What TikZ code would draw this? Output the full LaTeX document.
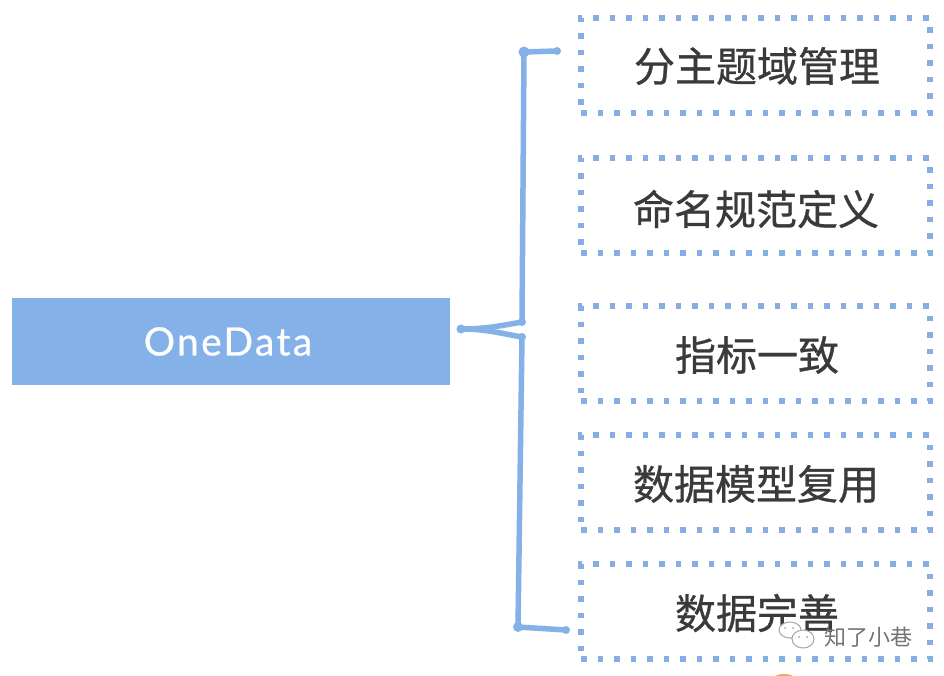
\documentclass[tikz,border=0pt]{standalone}
\usepackage{fontspec}
\setmainfont{Lato}
\newfontfamily\cjk[FakeBold=0.7]{Noto Sans CJK SC}
\newfontfamily\cjkwm{Noto Sans CJK SC}
\definecolor{bluefill}{HTML}{85B1E9}
\definecolor{dotblue}{HTML}{86AEE3}
\definecolor{inkdark}{HTML}{3A3A3A}
\tikzset{
  dotbox/.style={draw=dotblue,line width=5.5pt,dash pattern=on 5.5pt off 11pt,minimum width=349pt,minimum height=95pt,inner sep=0pt,outer sep=0pt,anchor=north west},
  boxtext/.style={font=\cjk\fontsize{41}{41}\selectfont,text=inkdark,inner sep=0pt},
  brace/.style={draw=bluefill,line width=5.5pt,line cap=round,line join=round},
  wmline/.style={draw=white!65!black,line width=1pt,fill=white},
}
\begin{document}
\begin{tikzpicture}[x=1pt,y=-1pt]
\useasboundingbox (0,0) rectangle (944,676);
\fill[white] (0,0) rectangle (944,676);
\node[fill=bluefill,minimum width=438pt,minimum height=87pt,inner sep=0pt,outer sep=0pt,anchor=north west,
      text=white,font=\fontsize{39}{39}\selectfont] (main) at (12,298) {\addfontfeature{LetterSpace=6,FakeBold=0.6}\kern-6pt OneData};

\node[dotbox] (b1) at (581,18) {};
\node[dotbox] (b2) at (581,158) {};
\node[dotbox] (b3) at (581,306) {};
\node[dotbox] (b4) at (581,435) {};
\node[dotbox] (b5) at (581,564) {};
\node[boxtext] at (757,66) {分主题域管理};
\node[boxtext] at (756,209) {命名规范定义};
\node[boxtext] at (757,355) {指标一致};
\node[boxtext] at (756,484) {数据模型复用};
\node[boxtext] at (757,613) {数据完善};

\coordinate (root) at (461,329);
\coordinate (j1) at (522,322);
\coordinate (j2) at (522,337);
\coordinate (c1) at (524,52);
\coordinate (c5) at (518,627);
\coordinate (e1) at (557,51);
\coordinate (e5) at (566,630);
\draw[brace] (root) to[out=0,in=190] (j1) -- (c1) -- (e1);
\draw[brace] (root) to[out=0,in=170] (j2) -- (c5) -- (e5);
\fill[bluefill] (c1) circle (5.5pt) (e1) circle (4pt) (root) circle (4.5pt)
  (j1) circle (4pt) (j2) circle (4pt) (c5) circle (5pt) (e5) circle (4pt);

% watermark
\draw[wmline] (790,630) ellipse (11 and 8);
\draw[wmline] (803,639) ellipse (11 and 9);
\fill[white!65!black] (785,628) circle (1pt) (793,628) circle (1pt) (799,637) circle (1pt) (807,637) circle (1pt);
\node[font=\cjkwm\fontsize{22}{22}\selectfont,text=white!45!black,inner sep=0pt] (wm) at (868,637) {知了小巷};
% orange spot at the lower edge
\begin{scope}
\clip (0,0) rectangle (944,676);
\fill[orange!70!brown!70!white] (784,685) ellipse (16 and 11);
\end{scope}
\end{tikzpicture}
\end{document}
